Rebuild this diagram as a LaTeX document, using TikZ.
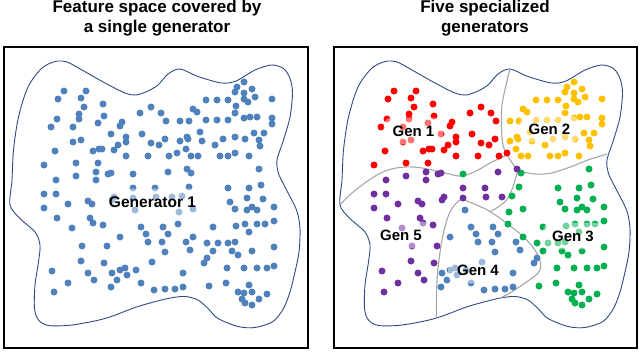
\documentclass[tikz,border=0pt]{standalone}
\usepackage{fontspec}
\setsansfont{Liberation Sans}
\usepackage{tikz}

\definecolor{genblue}{HTML}{4F81BD}
\definecolor{genred}{HTML}{FF0000}
\definecolor{genorange}{HTML}{FFC000}
\definecolor{gengreen}{HTML}{00B050}
\definecolor{genpurple}{HTML}{7030A0}
\definecolor{blobline}{HTML}{2F4B85}
\definecolor{partline}{HTML}{A6A6A6}

\tikzset{
  frame/.style={draw=black, line width=2.4pt},
  blob/.style={draw=blobline, line width=0.9pt},
  part/.style={draw=partline, line width=1.1pt},
  title/.style={font=\sffamily\bfseries\fontsize{17}{20}\selectfont, anchor=base},
  genlabel/.style={font=\sffamily\bfseries\fontsize{15}{17}\selectfont,
    fill=white, fill opacity=0.45, text opacity=1, rounded corners=8pt,
    inner xsep=9pt, inner ysep=8pt},
}

% sample points (right panel coordinates)
\newcommand{\redpts}{394/91, 416/91, 388/99, 411/98, 414/107, 433/104, 409/114,
  434/116, 470/113, 481/107, 491/113, 387/119, 409/119, 381/127, 403/127,
  428/123, 452/122, 450/126, 441/134, 472/134, 403/142, 411/140, 456/137,
  456/142, 448/145, 481/143, 489/145, 385/151, 423/151, 429/149, 432/149,
  444/150, 456/156, 478/156, 374/165, 406/163, 428/163, 496/121, 495/139,
  499/156, 507/153}
\newcommand{\orangepts}{574/82, 567/87, 582/89, 565/92, 574/93, 585/97, 574/99,
  536/100, 547/100, 558/100, 602/99, 578/102, 566/106, 523/109, 527/112,
  565/113, 510/121, 519/121, 536/120, 547/120, 558/120, 574/118, 580/117,
  587/117, 602/118, 602/124, 530/132, 517/137, 510/141, 518/139, 532/141,
  545/145, 553/139, 565/137, 575/139, 584/133, 594/133, 589/140, 590/146,
  516/149, 521/156, 528/156, 550/156, 558/156, 565/153, 579/156}
\newcommand{\greenpts}{463/174, 589/169, 521/173, 519/187, 558/188, 579/188,
  591/185, 577/198, 593/199, 523/209, 509/212, 508/224, 523/237, 512/196,
  560/202, 565/209, 577/210, 582/207, 587/210, 604/207, 543/227, 566/226,
  575/224, 587/224, 595/224, 604/221, 579/232, 537/243, 548/243, 558/243,
  565/242, 543/251, 562/251, 568/255, 582/251, 604/247, 557/268, 574/268,
  587/268, 597/268, 604/266, 539/286, 556/283, 579/285, 568/292, 574/293,
  582/292, 597/294, 572/299, 582/305, 589/299, 575/303}
\newcommand{\purplepts}{386/180, 406/176, 426/172, 426/180, 438/174, 441/173,
  463/188, 485/188, 374/194, 386/194, 444/197, 463/198, 486/197, 498/172,
  517/169, 502/197, 374/208, 398/204, 418/201, 422/204, 442/200, 387/218,
  420/218, 402/228, 423/223, 433/225, 412/246, 437/246, 411/261, 434/263,
  382/271, 418/273, 424/280, 398/283, 384/292}
\newcommand{\bluepts}{465/210, 471/227, 476/234, 478/242, 450/237, 442/273,
  450/270, 455/268, 447/280, 441/287, 471/283, 482/262, 484/290, 493/227,
  498/234, 492/242, 495/252, 516/242, 520/250, 537/258, 534/263, 513/273,
  495/289, 505/289, 513/287, 466/270, 457/275}
\newcommand{\spots}[2]{\foreach \x/\y in #2 {\fill[#1] (\x,\y) circle (3.5pt);}}

\begin{document}
\begin{tikzpicture}[x=1pt, y=-1pt]
\useasboundingbox (0,0) rectangle (640,351);

% Titles
\node[title] (lefttop) at (157,12.5) {Feature space covered by};
\node[title] (leftbottom) at (157,32) {a single generator};
\node[title] (righttop) at (485,12.5) {Five specialized};
\node[title] (rightbottom) at (485,32) {generators};

% Frames
\draw[frame] (4,47) rectangle (308,348);
\draw[frame] (334,47) rectangle (637,348);

% Feature space outline (same shape in both panels)
\foreach \dx in {-330,0} {
  \begin{scope}[xshift=\dx pt]
    \draw[blob] plot[smooth cycle, tension=0.5] coordinates {
      (340,205) (342,180) (343.5,150) (348.5,117) (358,87) (371.5,68.5)
      (385,61.5) (397,62) (412,70) (435,83) (455,93) (466,95) (478,91)
      (488,85) (498,74) (510,69) (528,76.5) (551.5,83) (566,81) (585,70)
      (601.5,65) (613.5,68.5) (620,78.5) (622.5,93) (620,117) (613.5,140)
      (607,160) (608.5,173.5) (615,187) (626.5,210) (630,228.5) (629,252)
      (625,272) (620,292) (613.5,308.5) (603,321.5) (585,327.5) (568,326.5)
      (548,318.5) (538,308.5) (528,300) (515,296.5) (498,298.5) (468,306.5)
      (435,318.5) (402,325) (378.5,325.5) (368.5,320) (364.5,308.5)
      (365,285) (368.5,262) (370,245) (365,232) (350,218.5)};
  \end{scope}
}

% Region borders
\draw[part] plot[smooth, tension=0.6] coordinates {(340,205) (352,193)
  (372,178) (388,170) (405,167) (422,168) (445,173) (462,176) (478,170)
  (490,163) (507,155)};
\draw[part] plot[smooth, tension=0.6] coordinates {(510,69) (506.5,83)
  (502,105) (501.5,125) (503,145) (509,158) (518,171)};
\draw[part] plot[smooth, tension=0.6] coordinates {(518,171) (535,174)
  (551.5,173) (571.5,166.5) (588,160) (607,154)};
\draw[part] plot[smooth, tension=0.6] coordinates {(518,171) (515,180)
  (513,187) (506.5,200) (496.5,208) (490,211.5)};
\draw[part] plot[smooth, tension=0.6] coordinates {(436.5,318) (436.5,295)
  (438,268) (443,235) (450,212) (460,200) (468,201.5) (480,206.5)
  (490,211.5) (506.5,223) (523,236.5) (535,250) (540.5,263) (538,273)
  (525,283) (510,293) (499,298.5)};

% Right panel points
\spots{genred}{\redpts}
\spots{genorange}{\orangepts}
\spots{gengreen}{\greenpts}
\spots{genpurple}{\purplepts}
\spots{genblue}{\bluepts}

% Left panel points
\begin{scope}[xshift=-330pt]
  \spots{genblue}{\redpts}
  \spots{genblue}{\orangepts}
  \spots{genblue}{\greenpts}
  \spots{genblue}{\purplepts}
  \spots{genblue}{\bluepts}
\end{scope}

% Labels
\node[genlabel, font=\sffamily\bfseries\fontsize{15.5}{17}\selectfont]
  (gen) at (152.5,202) {Generator 1};
\node[genlabel] (gen1) at (413.5,131) {Gen 1};
\node[genlabel] (gen2) at (549.5,129) {Gen 2};
\node[genlabel] (gen3) at (573,236) {Gen 3};
\node[genlabel] (gen4) at (478,270) {Gen 4};
\node[genlabel] (gen5) at (401,235) {Gen 5};

\end{tikzpicture}
\end{document}
